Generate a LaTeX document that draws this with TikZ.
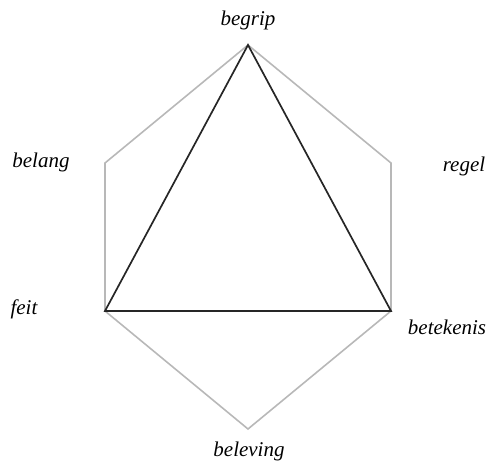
\documentclass[tikz,border=0pt]{standalone}
\usepackage{fontspec}
\setmainfont{Liberation Serif}
\begin{document}
\begin{tikzpicture}[x=1pt,y=-1pt,
  hexline/.style={draw=black!28,line width=1.6pt},
  triline/.style={draw=black!85,line width=1.7pt,line join=miter},
  lbl/.style={font=\itshape\fontsize{21}{24}\selectfont,anchor=base,inner sep=0pt}]
\useasboundingbox (0,0) rectangle (488,462);
\coordinate (T) at (248,45);
\coordinate (UR) at (391,163);
\coordinate (LR) at (391,311);
\coordinate (B) at (248,429);
\coordinate (LL) at (105,311);
\coordinate (UL) at (105,163);
\draw[hexline] (T) -- (UR) -- (LR) -- (B) -- (LL) -- (UL) -- cycle;
\draw[triline] (T) -- (LR) -- (LL) -- cycle;
\node[lbl] (begrip) at (248,26) {begrip};
\node[lbl] (belang) at (41,168) {belang};
\node[lbl] (regel) at (464,172) {regel};
\node[lbl] (feit) at (24,315) {feit};
\node[lbl] (betekenis) at (447,335) {betekenis};
\node[lbl] (beleving) at (249,457) {beleving};
\end{tikzpicture}
\end{document}
